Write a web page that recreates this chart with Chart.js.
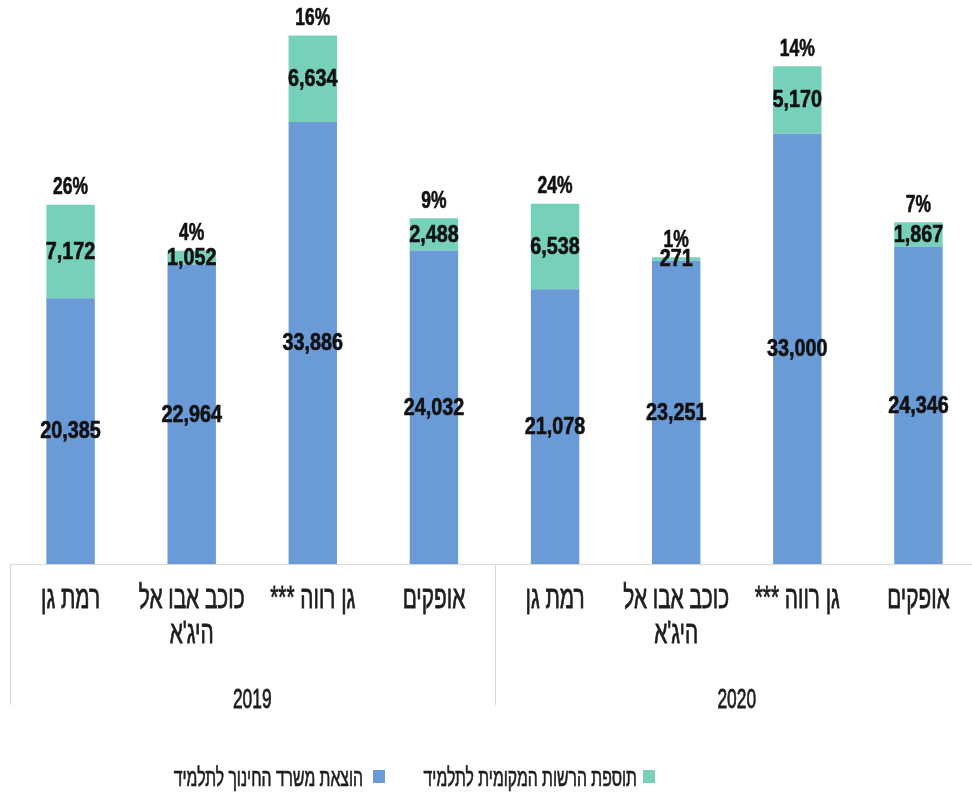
<!DOCTYPE html>
<html lang="he">
<head>
<meta charset="utf-8">
<script src="https://cdn.jsdelivr.net/npm/chart.js@4.4.1/dist/chart.umd.min.js"></script>
<style>
  html, body { margin: 0; padding: 0; background: #fff; overflow: hidden; }
  #wrap { position: relative; width: 979px; height: 792px; }
</style>
</head>
<body>
<div id="wrap"><canvas id="c" dir="rtl"></canvas></div>
<script>
// ---- data ----
const categories = [
  ['רמת גן'], ['כוכב אבו אל', "היג'א"], ['גן רווה ***'], ['אופקים'],
  ['רמת גן'], ['כוכב אבו אל', "היג'א"], ['גן רווה ***'], ['אופקים']
];
const years = ['2019', '2020'];
const ministryPerStudent = [20385, 22964, 33886, 24032, 21078, 23251, 33000, 24346];
const localAddition = [7172, 1052, 6634, 2488, 6538, 271, 5170, 1867];
const localShareLabels = ['26%', '4%', '16%', '9%', '24%', '1%', '14%', '7%'];
const seriesNames = ['הוצאת משרד החינוך לתלמיד', 'תוספת הרשות המקומית לתלמיד'];

const BLUE = '#6a9bd6';
const GREEN = '#77d0ba';
const FONT = '"Liberation Sans", Arial, sans-serif';

// draw text horizontally condensed (reference uses a narrow typeface)
function drawText(ctx, text, x, y, sx, align, dir, baseline, weight) {
  ctx.save();
  ctx.translate(x, y);
  ctx.scale(sx, 1);
  ctx.textAlign = align;
  ctx.direction = dir || 'ltr';
  ctx.textBaseline = baseline || 'middle';
  ctx.fillText(text, 0, 0);
  if (weight) {
    ctx.strokeStyle = ctx.fillStyle;
    ctx.lineWidth = weight;
    ctx.strokeText(text, 0, 0);
  }
  ctx.restore();
}

const labelPlugin = {
  id: 'valueLabels',
  afterDatasetsDraw(chart) {
    const ctx = chart.ctx;
    ctx.save();
    ctx.fillStyle = '#111';
    ctx.font = 'bold 23px ' + FONT;
    chart.data.datasets.forEach((ds, di) => {
      const meta = chart.getDatasetMeta(di);
      meta.data.forEach((el, i) => {
        const v = ds.data[i];
        const cy = (el.y + el.base) / 2;
        drawText(ctx, v.toLocaleString('en-US'), el.x, cy + 1, 0.86, 'center', 'ltr', 'middle', 0.6);
      });
    });
    const top = chart.getDatasetMeta(chart.data.datasets.length - 1);
    top.data.forEach((el, i) => {
      drawText(ctx, localShareLabels[i], el.x, el.y - 17, 0.76, 'center', 'ltr', 'middle', 0.6);
    });
    ctx.restore();
  }
};

const groupPlugin = {
  id: 'groups',
  afterDraw(chart) {
    const ctx = chart.ctx;
    const xs = chart.scales.x;
    const area = chart.chartArea;
    const mid = (xs.getPixelForValue(3) + xs.getPixelForValue(4)) / 2;
    ctx.save();
    ctx.strokeStyle = '#d9d9d9';
    ctx.lineWidth = 1;
    [area.left, mid, area.right].forEach(x => {
      const px = Math.round(x) + 0.5;
      ctx.beginPath();
      ctx.moveTo(px, area.bottom);
      ctx.lineTo(px, 705);
      ctx.stroke();
    });

    // category labels
    ctx.fillStyle = '#1e1e1e';
    ctx.font = '32px ' + FONT;
    chart.data.labels.forEach((lab, i) => {
      const x = xs.getPixelForValue(i);
      lab.forEach((line, li) => {
        drawText(ctx, line, x, 608 + li * 35, 0.65, 'center', 'rtl', 'alphabetic', 0.8);
      });
    });

    // group (year) labels
    ctx.font = '28px ' + FONT;
    drawText(ctx, years[0], (area.left + mid) / 2, 708, 0.62, 'center', 'ltr', 'alphabetic', 0.8);
    drawText(ctx, years[1], (mid + area.right) / 2, 708, 0.62, 'center', 'ltr', 'alphabetic', 0.8);

    // legend
    ctx.font = '25px ' + FONT;
    const items = [
      { color: GREEN, text: seriesNames[1], sq: 643, tx: 637 },
      { color: BLUE, text: seriesNames[0], sq: 373, tx: 363 }
    ];
    items.forEach(it => {
      ctx.fillStyle = it.color;
      ctx.fillRect(it.sq, 770, 12, 13);
      ctx.fillStyle = '#1e1e1e';
      drawText(ctx, it.text, it.tx, 786, 0.63, 'right', 'rtl', 'alphabetic', 0.7);
    });
    ctx.restore();
  }
};

new Chart(document.getElementById('c'), {
  type: 'bar',
  data: {
    labels: categories,
    datasets: [
      { label: seriesNames[0], data: ministryPerStudent, backgroundColor: BLUE,
        barPercentage: 0.4, categoryPercentage: 1.0 },
      { label: seriesNames[1], data: localAddition, backgroundColor: GREEN,
        barPercentage: 0.4, categoryPercentage: 1.0 }
    ]
  },
  options: {
    responsive: true,
    maintainAspectRatio: false,
    animation: false,
    layout: { padding: { left: 10, right: 0, top: 0, bottom: 0 } },
    plugins: { legend: { display: false }, tooltip: { enabled: false } },
    scales: {
      x: {
        stacked: true,
        grid: { display: false },
        border: { display: true, color: '#d9d9d9', width: 1 },
        ticks: { display: false },
        afterFit(scale) { scale.height = 228; }
      },
      y: {
        stacked: true,
        display: false,
        min: 0,
        max: 43250
      }
    }
  },
  plugins: [labelPlugin, groupPlugin]
});
</script>
</body>
</html>
